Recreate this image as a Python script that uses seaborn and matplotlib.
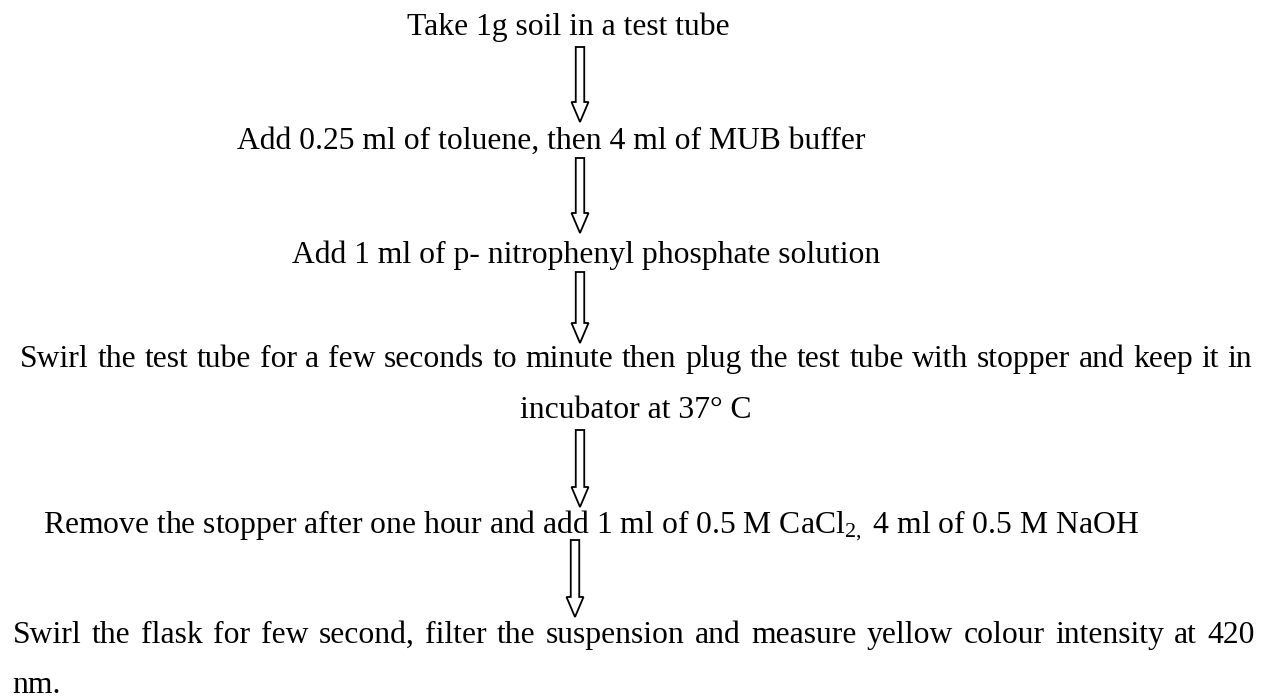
import matplotlib
matplotlib.use("Agg")
import matplotlib.pyplot as plt
from matplotlib.patches import FancyArrow
import seaborn as sns

sns.set_theme(style="white")
plt.rcParams['font.family'] = ['Liberation Serif', 'DejaVu Serif']
plt.rcParams['mathtext.fontset'] = 'custom'
plt.rcParams['mathtext.rm'] = 'Liberation Serif'
plt.rcParams['mathtext.it'] = 'Liberation Serif:italic'

# ---- content ----
step_lines = [
    "Take 1g soil in a test tube",
    "Add 0.25 ml of toluene, then 4 ml of MUB buffer",
    "Add 1 ml of p- nitrophenyl phosphate solution",
    "Swirl the test tube for a few seconds to minute then plug the test tube with stopper and keep it in",
    "incubator at 37° C",
    r"Remove the stopper after one hour and add 1 ml of 0.5 M CaCl$_{2,}$ 4 ml of 0.5 M NaOH",
    "Swirl the flask for few second, filter the suspension and measure yellow colour intensity at 420",
    "nm.",
]
justified = [False, False, False, True, False, False, True, False]

# ---- layout (pixels, y downward) ----
line_left = [407, 237, 292, 20, 520, 43, 13, 12]
line_right = [None, None, None, 1252, None, None, 1255, None]
line_base = [35, 149, 263, 367, 418, 533, 643, 693]
arrow_x = [580, 580, 580, 580, 575]
arrow_top = [47, 158, 272, 430, 540]
arrow_tip = [122, 233, 343, 507, 617]

FS = 22.8
W, H = 1262, 700
fig = plt.figure(figsize=(W / 100, H / 100), dpi=100)
ax = fig.add_axes([0, 0, 1, 1])
ax.set_xlim(0, W)
ax.set_ylim(H, 0)
ax.axis('off')
fig.patch.set_facecolor('white')

renderer = fig.canvas.get_renderer()

for txt, just, x0, x1, yb in zip(step_lines, justified, line_left, line_right, line_base):
    if not just:
        ax.text(x0, yb, txt, fontsize=FS, color='black', ha='left', va='baseline')
    else:
        words = txt.split(" ")
        objs = [ax.text(0, yb, w, fontsize=FS, color='black', ha='left', va='baseline') for w in words]
        inv = ax.transData.inverted()
        widths = []
        for o in objs:
            bb = o.get_window_extent(renderer=renderer)
            (a, _), (b, _) = inv.transform([[bb.x0, 0], [bb.x1, 0]])
            widths.append(b - a)
        gap = (x1 - x0 - sum(widths)) / (len(words) - 1)
        x = x0
        for o, w in zip(objs, widths):
            o.set_x(x)
            x += w + gap

for xa, yt, yp in zip(arrow_x, arrow_top, arrow_tip):
    ax.add_patch(FancyArrow(xa, yt, 0, yp - yt, width=8.5, head_width=17,
                            head_length=20, length_includes_head=True,
                            fill=False, edgecolor='black', linewidth=1.3))

fig.savefig("out.png", dpi=100, facecolor='white')
